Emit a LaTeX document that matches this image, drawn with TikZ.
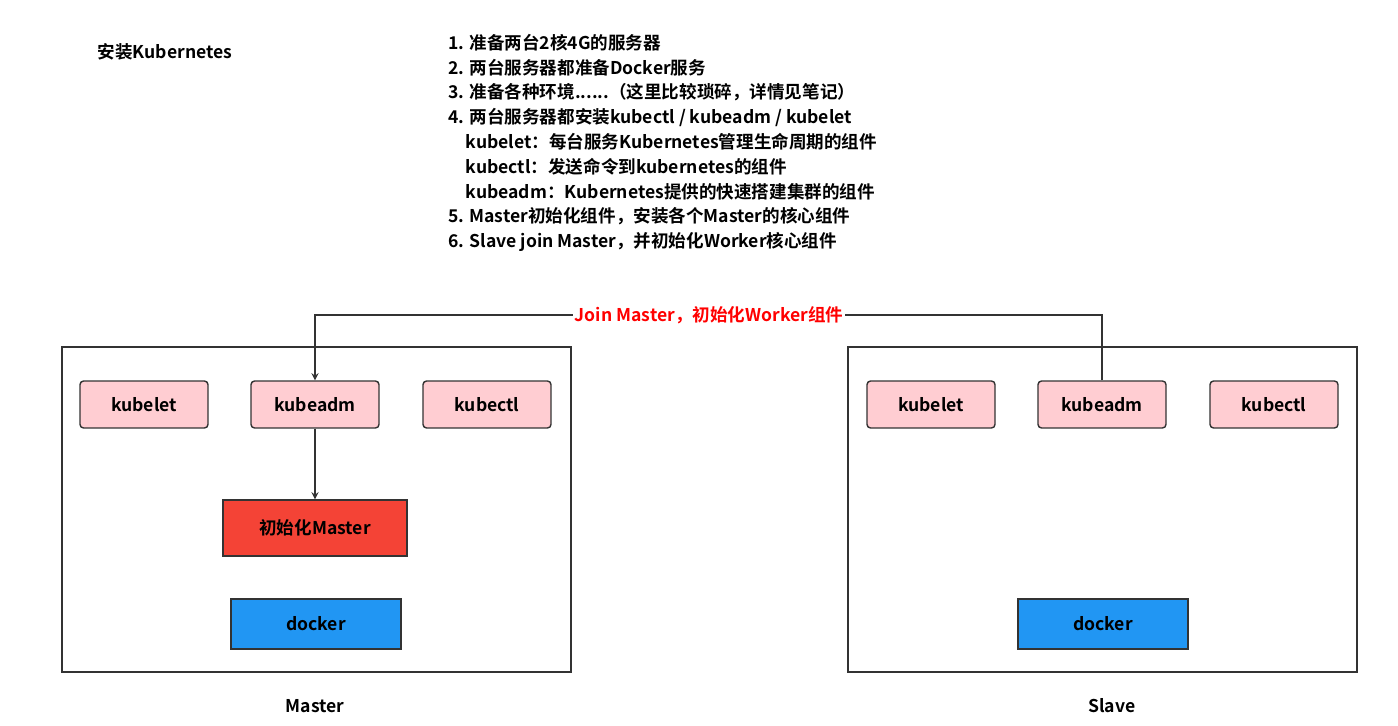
\documentclass[tikz,border=0pt]{standalone}
\usepackage{fontspec}
\setmainfont{Noto Sans CJK SC}[BoldFont={Noto Sans CJK SC Bold}]
\usetikzlibrary{positioning}
\definecolor{pinkbox}{HTML}{FFCDD2}
\definecolor{redbox}{HTML}{F44336}
\definecolor{bluebox}{HTML}{2196F3}
\definecolor{edge}{HTML}{333333}
\tikzset{
    comp/.style={rectangle, rounded corners=2pt, draw=edge, thick, fill=pinkbox, minimum width=2.56cm, minimum height=0.94cm, font=\bfseries\fontsize{10}{12}\selectfont},
    host/.style={rectangle, draw=edge, thick, minimum width=10.18cm, minimum height=6.5cm},
    lbl/.style={font=\bfseries\fontsize{10}{12}\selectfont},
    link/.style={->, thick, draw=edge, >=stealth}
}
\begin{document}
\begin{tikzpicture}[x=0.02cm, y=-0.02cm]
    \useasboundingbox (0,0) rectangle (1398,726);
    \node[lbl] (title) at (165,52) {安装Kubernetes};
    \node[lbl, anchor=north west, align=left, font=\bfseries\fontsize{10}{14.1}\selectfont] (steps) at (442,28) {%
        1. 准备两台2核4G的服务器\\
        2. 两台服务器都准备Docker服务\\
        3. 准备各种环境......（这里比较琐碎，详情见笔记）\\
        4. 两台服务器都安装kubectl / kubeadm / kubelet\\
        \quad kubelet：每台服务Kubernetes管理生命周期的组件\\
        \quad kubectl：发送命令到kubernetes的组件\\
        \quad kubeadm：Kubernetes提供的快速搭建集群的组件\\
        5. Master初始化组件，安装各个Master的核心组件\\
        6. Slave join Master，并初始化Worker核心组件};

    % Master
    \node[host] (master) at (316.5,509.5) {};
    \node[comp] (m_kubelet) at (144,404.5) {kubelet};
    \node[comp] (m_kubeadm) at (315,404.5) {kubeadm};
    \node[comp] (m_kubectl) at (487,404.5) {kubectl};
    \node[comp, rounded corners=0pt, fill=redbox, minimum width=3.68cm, minimum height=1.12cm] (m_init) at (315,528) {初始化Master};
    \node[comp, rounded corners=0pt, fill=bluebox, minimum width=3.4cm, minimum height=1cm] (m_docker) at (316,624) {docker};
    \node[lbl] (m_name) at (315,706) {Master};

    % Slave
    \node[host] (slave) at (1102.5,509.5) {};
    \node[comp] (s_kubelet) at (931,404.5) {kubelet};
    \node[comp] (s_kubeadm) at (1102,404.5) {kubeadm};
    \node[comp] (s_kubectl) at (1274,404.5) {kubectl};
    \node[comp, rounded corners=0pt, fill=bluebox, minimum width=3.4cm, minimum height=1cm] (s_docker) at (1103,624) {docker};
    \node[lbl] (s_name) at (1112,706) {Slave};

    \draw[link] (m_kubeadm.south) -- (m_init.north);
    \draw[link] (s_kubeadm.north) |- (709,315) -| (m_kubeadm.north);
    \node[lbl, text=red, fill=white, inner sep=1pt] (join) at (709,315) {Join Master，初始化Worker组件};
\end{tikzpicture}
\end{document}
